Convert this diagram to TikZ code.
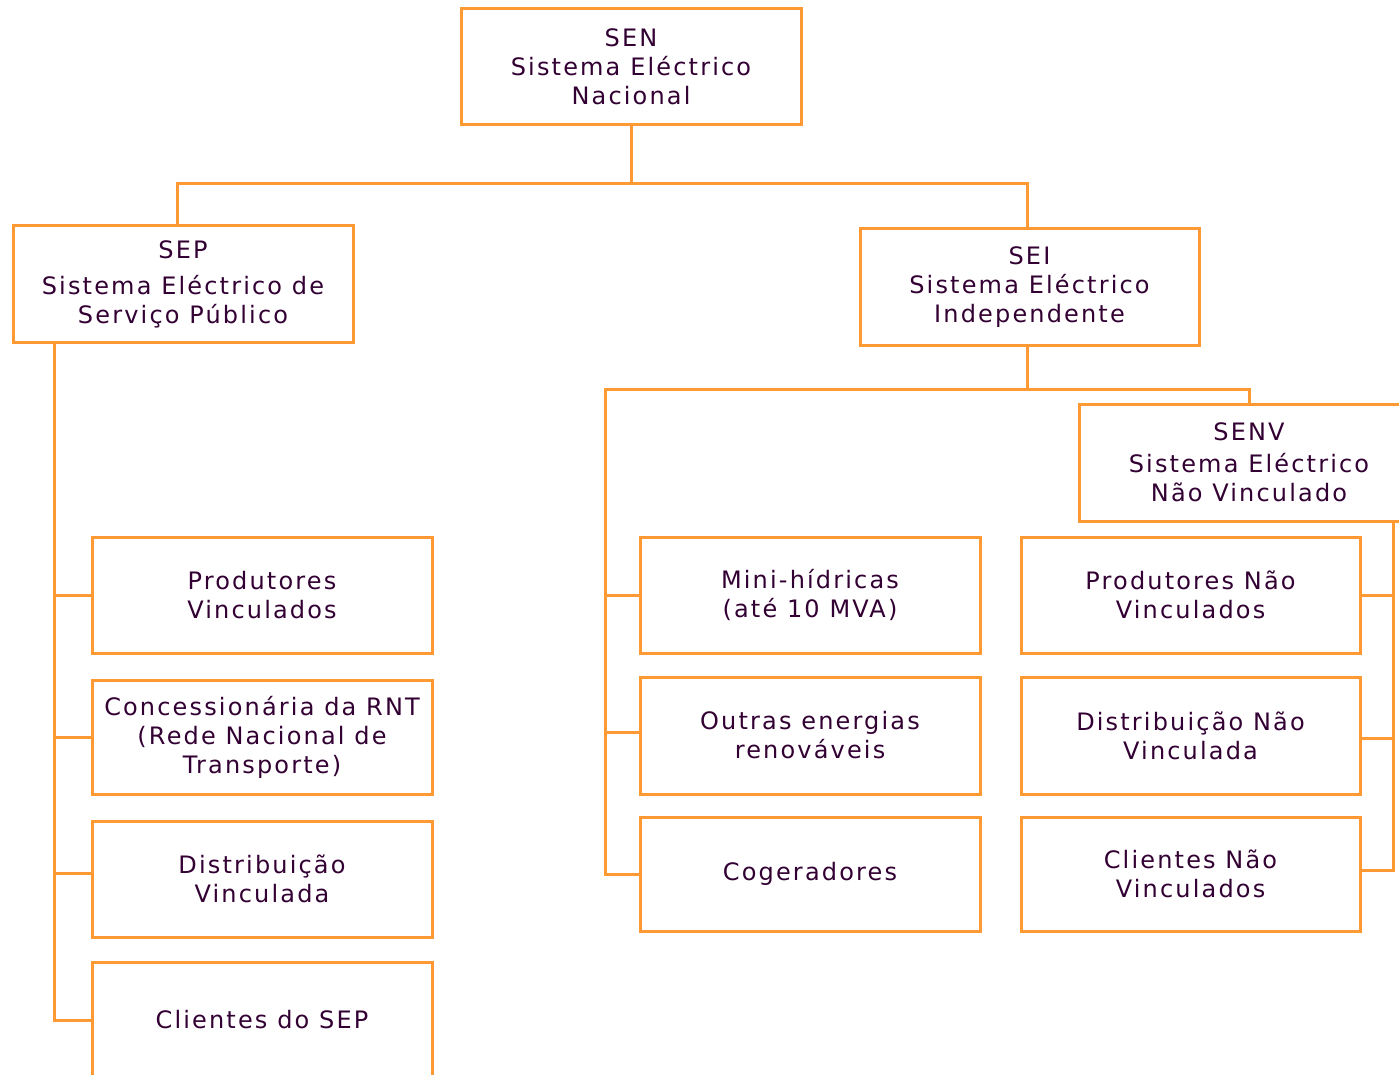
\documentclass[tikz,border=0pt]{standalone}
\usepackage{fontspec}
\setmainfont{DejaVu Sans}[LetterSpace=9]
\definecolor{org}{HTML}{FF9933}
\definecolor{txt}{HTML}{330033}
\tikzset{
  box/.style={draw=org, line width=3pt, minimum width=340pt, minimum height=116pt,
    inner sep=0pt, outer sep=0pt, align=center, text=txt, font=\fontsize{24}{29}\selectfont},
  conn/.style={draw=org, line width=3pt}
}
\begin{document}
\begin{tikzpicture}[x=1pt,y=-1pt]
\path[use as bounding box, clip] (0,0) rectangle (1399,1075);
\fill[white] (0,0) rectangle (1399,1075);
% boxes
\node[box] (SEN) at (631,67) {SEN\\Sistema Eléctrico\\Nacional};
\node[box] (SEP) at (183,284) {SEP\\[7pt]Sistema Eléctrico de\\Serviço Público};
\node[box, minimum width=339pt] (SEI) at (1029.5,287) {SEI\\Sistema Eléctrico\\Independente};
\node[box, minimum height=117pt] (SENV) at (1249,462.5) {SENV\\[3pt]Sistema Eléctrico\\Não Vinculado};
\node[box] (PV) at (262,595) {Produtores\\Vinculados};
\node[box, minimum height=114pt] (CRNT) at (262,737) {Concessionária da RNT\\(Rede Nacional de\\Transporte)};
\node[box] (DV) at (262,879) {Distribuição\\Vinculada};
\node[box] (CSEP) at (262,1020) {Clientes do SEP};
\node[box] (MH) at (810,595) {Mini-hídricas\\(até 10 MVA)};
\node[box, minimum height=117pt] (OE) at (810,735.5) {Outras energias\\renováveis};
\node[box, minimum height=114pt] (CG) at (810,874) {Cogeradores};
\node[box, minimum width=339pt] (PNV) at (1190.5,595) {Produtores Não\\Vinculados};
\node[box, minimum width=339pt, minimum height=117pt] (DNV) at (1190.5,735.5) {Distribuição Não\\Vinculada};
\node[box, minimum width=339pt, minimum height=114pt] (CNV) at (1190.5,874) {Clientes Não\\Vinculados};
% level 1
\coordinate (j1) at (631,184);
\draw[conn] (SEN.south) -- (j1);
\draw[conn] (j1) -| ([xshift=-6pt]SEP.north);
\draw[conn] (j1) -| ([xshift=-2.5pt]SEI.north);
% SEI
\coordinate (j2) at (1027,389);
\draw[conn] ([xshift=-2.5pt]SEI.south) -- (j2);
\draw[conn] (j2) -| (SENV.north);
\draw[conn] (j2) -| ([xshift=-35pt]CG.west) -- (CG.west);
\draw[conn] ([xshift=-35pt]MH.west) -- (MH.west);
\draw[conn] ([xshift=-35pt,yshift=3.5pt]OE.west) -- ([yshift=3.5pt]OE.west);
% SEP trunk
\draw[conn] ([xshift=41pt]SEP.south west) |- (CSEP.west);
\draw[conn] ([xshift=-38pt]PV.west) -- (PV.west);
\draw[conn] ([xshift=-38pt]CRNT.west) -- (CRNT.west);
\draw[conn] ([xshift=-38pt,yshift=6pt]DV.west) -- ([yshift=6pt]DV.west);
% SENV trunk
\draw[conn] ([xshift=314pt]SENV.south west) |- ([yshift=4pt]CNV.east);
\draw[conn] (PNV.east) -- ++(32.5pt,0);
\draw[conn] ([yshift=-2.5pt]DNV.east) -- ++(32.5pt,0);
\end{tikzpicture}
\end{document}
